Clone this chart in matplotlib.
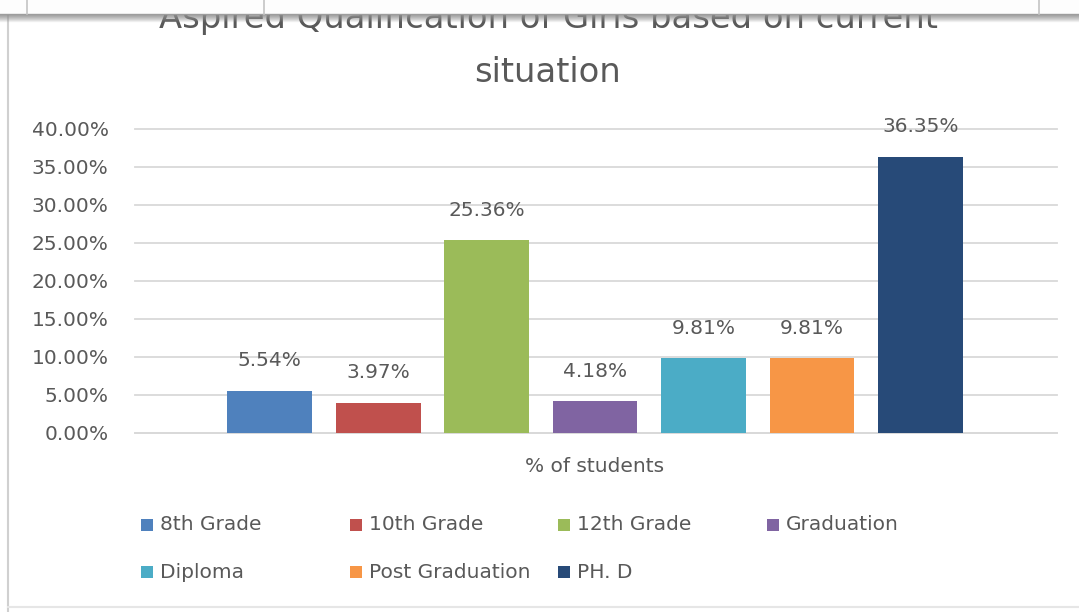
import matplotlib.pyplot as plt
from matplotlib.patches import Rectangle
from matplotlib.lines import Line2D

# --- datos ---
categorias = ['8th Grade', '10th Grade', '12th Grade', 'Graduation',
              'Diploma', 'Post Graduation', 'PH. D']
valores = [5.54, 3.97, 25.36, 4.18, 9.81, 9.81, 36.35]
colores = ['#4F81BD', '#C0504D', '#9BBB59', '#8064A2',
           '#4BACC6', '#F79646', '#274A78']
yticks = [0, 5, 10, 15, 20, 25, 30, 35, 40]
titulo = ['Aspired Qualification of Girls based on current', 'situation']
xlabel = '% of students'

W, H = 1079, 612
gris = '#595959'
plt.rcParams['font.family'] = 'DejaVu Sans'

fig = plt.figure(figsize=(W / 100, H / 100), dpi=100)
ax = fig.add_axes([135 / W, 1 - 433 / H, (1057 - 135) / W, (433 - 129) / H])

x = list(range(len(valores)))
ax.bar(x, valores, width=0.783, color=colores, zorder=3)
for xi, v in zip(x, valores):
    ax.annotate(f'{v:.2f}%', (xi, v), xytext=(0, 21.6), textcoords='offset points',
                ha='center', va='center', fontsize=14.5, color=gris)

ax.set_xlim(-1.24, 7.258)
ax.set_ylim(0, 40)
ax.set_yticks(yticks)
ax.set_yticklabels([f'{t:.2f}%' for t in yticks])
ax.set_xticks([])
ax.tick_params(axis='y', length=0, pad=19, labelsize=14.5, labelcolor=gris)
ax.grid(axis='y', color='#d9d9d9', lw=1.3, zorder=0)
for gl in ax.get_ygridlines():
    gl.set_clip_on(False)
for s in ['top', 'right', 'left']:
    ax.spines[s].set_visible(False)
ax.spines['bottom'].set_color('#d9d9d9')
ax.spines['bottom'].set_linewidth(1.3)

# titulo (cortado por la franja superior)
fig.text(548 / W, 1 - 28 / H, titulo[0], ha='center', va='baseline',
         fontsize=24.3, color=gris)
fig.text(548 / W, 1 - 82 / H, titulo[1], ha='center', va='baseline',
         fontsize=24.3, color=gris)

fig.text(595 / W, 1 - 466 / H, xlabel, ha='center', va='center',
         fontsize=14.5, color=gris)

# leyenda manual (4 columnas fijas como en Excel)
for i, (cat, col) in enumerate(zip(categorias, colores)):
    fila, c = divmod(i, 4)
    x0 = 141 + c * 208.7
    yc = 525 + fila * 47
    fig.add_artist(Rectangle((x0 / W, 1 - (yc + 6) / H), 12 / W, 12 / H,
                             transform=fig.transFigure, fc=col, ec='none'))
    fig.text((x0 + 19) / W, 1 - yc / H, cat, ha='left', va='center',
             fontsize=14.5, color=gris)

# bordes del grafico
fig.add_artist(Line2D([8 / W, 8 / W], [0, 1 - 15 / H], transform=fig.transFigure,
                      color='#d0d0d0', lw=1.5))
fig.add_artist(Line2D([8 / W, 1], [1 - 607 / H, 1 - 607 / H], transform=fig.transFigure,
                      color='#e6e6e6', lw=1.5))

# franja superior con sombra
fig.add_artist(Rectangle((0, 1 - 14.5 / H), 1, 14.5 / H, transform=fig.transFigure,
                         fc='#fdfdfd', ec='none', zorder=20))
for k in range(8):
    yy = 1 - (14 + k) / H
    fig.add_artist(Line2D([0, 1], [yy, yy], transform=fig.transFigure,
                          color='#909090', lw=1, alpha=0.85 * (1 - k / 8), zorder=21))
for xv in [27, 264, 1039]:
    fig.add_artist(Line2D([xv / W, xv / W], [1 - 14 / H, 1], transform=fig.transFigure,
                          color='#c4c4c4', lw=1.2, zorder=21))

fig.savefig('out.png', dpi=100)
